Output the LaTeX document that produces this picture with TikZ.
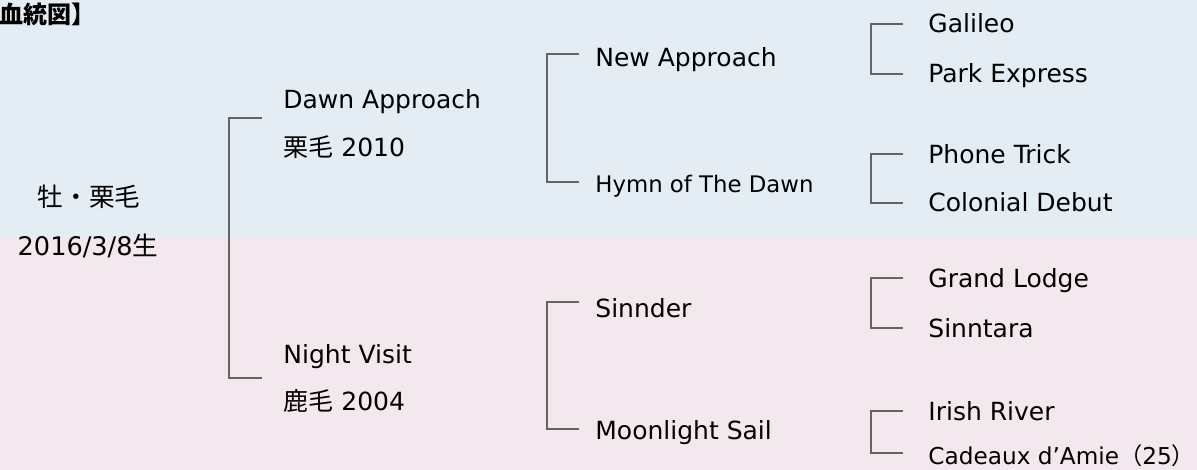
\documentclass[tikz,border=0pt]{standalone}
\usepackage{fontspec}
\setmainfont{DejaVu Sans}
\newfontfamily\jp{Noto Sans CJK JP}
\definecolor{sireblue}{RGB}{228,237,243}
\definecolor{damrose}{RGB}{243,232,238}
\definecolor{lineg}{RGB}{100,100,100}
\tikzset{
  horse/.style={
    anchor=base west,
    inner sep=0pt,
    font=\fontsize{12.5}{15}\selectfont
  },
  smallhorse/.style={
    horse,
    font=\fontsize{11.4}{14}\selectfont
  },
  tree/.style={
    draw=lineg,
    line width=0.65pt
  }
}

\begin{document}
\begin{tikzpicture}[x=0.5pt,y=-0.5pt]
    \useasboundingbox (0,0) rectangle (1197,470);
    % 背景
    \fill[sireblue] (0,0) rectangle (1197,238);
    \fill[damrose] (0,238) rectangle (1197,470);

    % 見出し
    \node[horse,font=\jp\bfseries\fontsize{12}{14}\selectfont] (title) at (-1,24) {血統図】};

    % 本馬
    \node[horse,anchor=base,font=\fontsize{12.8}{15}\selectfont] (sex) at (89,206) {\jp 牡・栗毛};
    \node[horse,anchor=base,font=\fontsize{12.8}{15}\selectfont] (birth) at (88,255) {2016/3/8{\jp 生}};

    % 父・母
    \node[horse] (DA) at (283,109) {Dawn Approach};
    \node[horse] (DAc) at (283,157) {{\jp 栗毛} 2010};
    \node[horse] (NV) at (283,363) {Night Visit};
    \node[horse] (NVc) at (283,410) {{\jp 鹿毛} 2004};

    % 祖父母
    \node[horse] (NA) at (595,67) {New Approach};
    \node[smallhorse] (HD) at (595,192) {Hymn of The Dawn};
    \node[horse] (SI) at (595,317) {Sinnder};
    \node[horse] (MS) at (595,439) {Moonlight Sail};

    % 曾祖父母
    \node[horse] (GA) at (928,33) {Galileo};
    \node[horse] (PE) at (928,83) {Park Express};
    \node[horse] (PT) at (928,163) {Phone Trick};
    \node[horse] (CD) at (928,212) {Colonial Debut};
    \node[horse] (GL) at (928,287) {Grand Lodge};
    \node[horse] (SN) at (928,337) {Sinntara};
    \node[horse] (IR) at (928,420) {Irish River};
    \node[horse,font=\fontsize{11.6}{14}\selectfont] (CA) at (928,464) {Cadeaux d’Amie{\jp （}25{\jp ）}};

    % 線
    \draw[tree] ([shift={(-21,9)}]DA.base west) -- ++(-33,0) |- ([shift={(-21,15)}]NV.base west);

    \draw[tree] ([shift={(-16,-13)}]NA.base west) -- ++(-32,0) |- ([shift={(-16,-10)}]HD.base west);
    \draw[tree] ([shift={(-16,-15)}]SI.base west) -- ++(-32,0) |- ([shift={(-16,-10)}]MS.base west);

    \draw[tree] ([shift={(-25,-9)}]GA.base west) -- ++(-32,0) |- ([shift={(-25,-9)}]PE.base west);
    \draw[tree] ([shift={(-25,-9)}]PT.base west) -- ++(-32,0) |- ([shift={(-25,-9)}]CD.base west);
    \draw[tree] ([shift={(-25,-9)}]GL.base west) -- ++(-32,0) |- ([shift={(-25,-9)}]SN.base west);
    \draw[tree] ([shift={(-25,-9)}]IR.base west) -- ++(-32,0) |- ([shift={(-25,-11)}]CA.base west);
\end{tikzpicture}
\end{document}
